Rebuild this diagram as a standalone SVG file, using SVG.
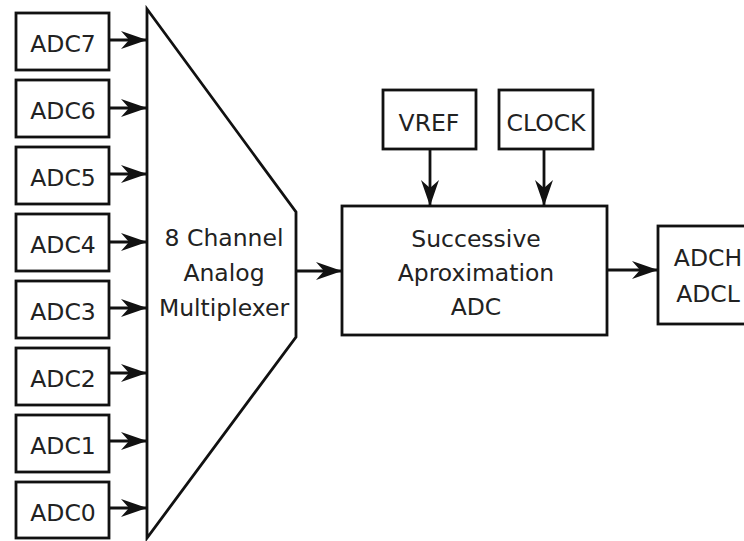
<svg xmlns="http://www.w3.org/2000/svg" width="744" height="541" viewBox="0 0 744 541">
<style>
.box{fill:#fff;stroke:#111;stroke-width:2.8}
.t{font-family:"DejaVu Sans",sans-serif;font-size:23.5px;fill:#222;text-anchor:middle}
.ln{stroke:#111;stroke-width:2.8;fill:none}
</style>
<defs>
<marker id="ah" viewBox="-28 -11 30 22" refX="0" refY="0" markerWidth="30" markerHeight="22" markerUnits="userSpaceOnUse" orient="auto">
<path d="M0,0 L-26,-9 L-18,0 L-26,9 Z" fill="#111"/>
</marker>
</defs>
<rect width="744" height="541" fill="#fff"/>
<g id="adc7"><rect class="box" x="16" y="13" width="93" height="57"/><text class="t" x="63" y="52">ADC7</text></g>
<g id="adc6"><rect class="box" x="16" y="80" width="93" height="57"/><text class="t" x="63" y="119">ADC6</text></g>
<g id="adc5"><rect class="box" x="16" y="147" width="93" height="57"/><text class="t" x="63" y="186">ADC5</text></g>
<g id="adc4"><rect class="box" x="16" y="214" width="93" height="57"/><text class="t" x="63" y="253">ADC4</text></g>
<g id="adc3"><rect class="box" x="16" y="281" width="93" height="57"/><text class="t" x="63" y="320">ADC3</text></g>
<g id="adc2"><rect class="box" x="16" y="348" width="93" height="57"/><text class="t" x="63" y="387">ADC2</text></g>
<g id="adc1"><rect class="box" x="16" y="415" width="93" height="57"/><text class="t" x="63" y="454">ADC1</text></g>
<g id="adc0"><rect class="box" x="16" y="482" width="93" height="56"/><text class="t" x="63" y="521">ADC0</text></g>
<g id="mux"><polygon class="box" points="147,9 296,212 296,337 147,538"/>
<text class="t" x="224" y="246">8 Channel</text>
<text class="t" x="224" y="281">Analog</text>
<text class="t" x="224" y="316">Multiplexer</text></g>
<g id="vref"><rect class="box" x="383" y="90" width="93" height="59"/><text class="t" x="429" y="131">VREF</text></g>
<g id="clock"><rect class="box" x="499" y="90" width="94" height="59"/><text class="t" x="546" y="131">CLOCK</text></g>
<g id="sar"><rect class="box" x="342" y="206" width="265" height="129"/>
<text class="t" x="476" y="247">Successive</text>
<text class="t" x="476" y="281">Aproximation</text>
<text class="t" x="476" y="315">ADC</text></g>
<g id="adch"><rect class="box" x="658" y="226" width="100" height="98"/>
<text class="t" x="708" y="266">ADCH</text>
<text class="t" x="708" y="302">ADCL</text></g>
<g id="connectors">
<line class="ln" x1="109" y1="40" x2="147" y2="40" marker-end="url(#ah)"/>
<line class="ln" x1="109" y1="108" x2="147" y2="108" marker-end="url(#ah)"/>
<line class="ln" x1="109" y1="174" x2="147" y2="174" marker-end="url(#ah)"/>
<line class="ln" x1="109" y1="242" x2="147" y2="242" marker-end="url(#ah)"/>
<line class="ln" x1="109" y1="308" x2="147" y2="308" marker-end="url(#ah)"/>
<line class="ln" x1="109" y1="373" x2="147" y2="373" marker-end="url(#ah)"/>
<line class="ln" x1="109" y1="441" x2="147" y2="441" marker-end="url(#ah)"/>
<line class="ln" x1="109" y1="508" x2="147" y2="508" marker-end="url(#ah)"/>
<line class="ln" x1="296" y1="271" x2="342" y2="271" marker-end="url(#ah)"/>
<line class="ln" x1="430" y1="149" x2="430" y2="206" marker-end="url(#ah)"/>
<line class="ln" x1="544" y1="149" x2="544" y2="206" marker-end="url(#ah)"/>
<line class="ln" x1="607" y1="270" x2="658" y2="270" marker-end="url(#ah)"/>
</g>
</svg>
